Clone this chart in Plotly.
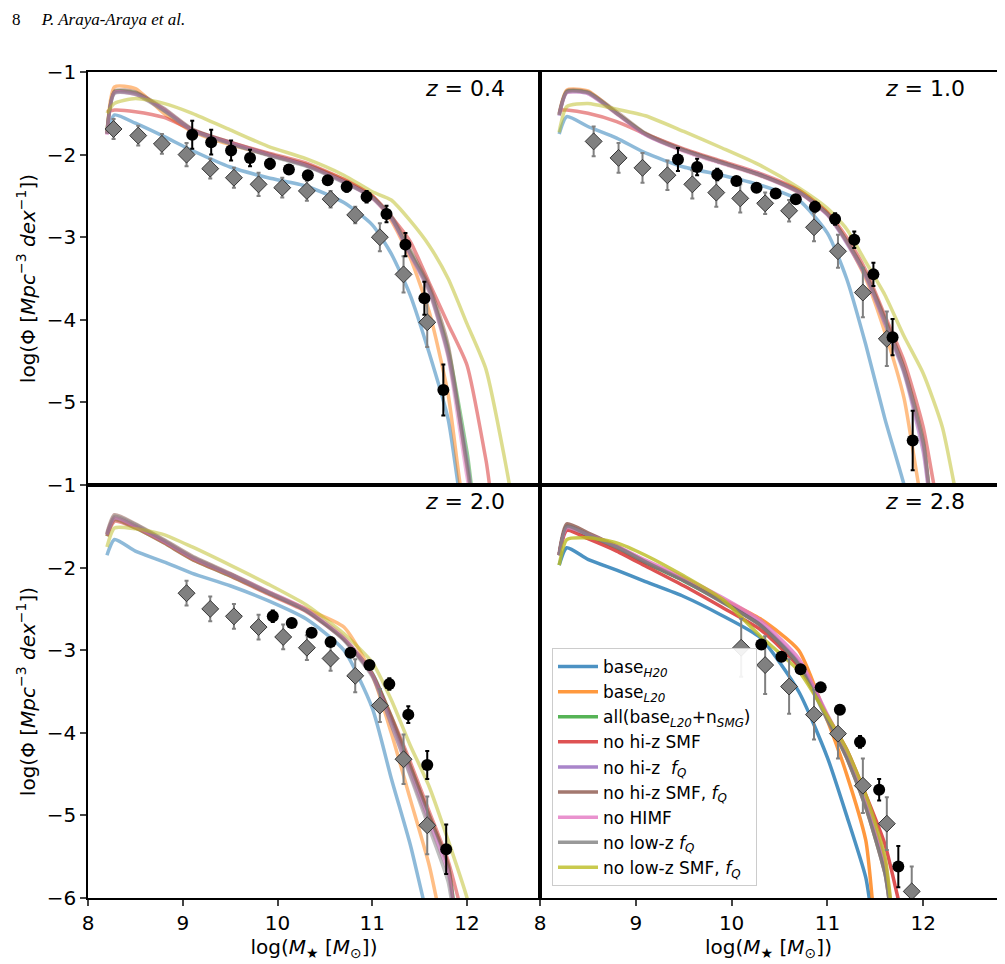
import plotly.graph_objects as go

# ---------------- data ----------------
mass = [8.2, 8.28, 8.5, 8.8, 9.1, 9.5, 9.9, 10.3, 10.7, 11.0, 11.2, 11.4, 11.6, 11.8, 12.0, 12.2, 12.4, 12.6]

models = ["base<sub><i>H20</i></sub>", "base<sub><i>L20</i></sub>",
          "all(base<sub><i>L20</i></sub>+n<sub><i>SMG</i></sub>)", "no hi-z SMF",
          "no hi-z  <i>f<sub>Q</sub></i>", "no hi-z SMF, <i>f<sub>Q</sub></i>", "no HIMF",
          "no low-z <i>f<sub>Q</sub></i>", "no low-z SMF, <i>f<sub>Q</sub></i>"]
colors = ["#1f77b4", "#ff7f0e", "#2ca02c", "#d62728", "#9467bd", "#8c564b", "#e377c2", "#7f7f7f", "#bcbd22"]

# z = 0.4
phi_z04 = [
    [-1.75, -1.52, -1.62, -1.78, -1.95, -2.15, -2.28, -2.38, -2.58, -2.85, -3.2, -3.7, -4.4, -5.2, -6.6, -7, -7, -7],
    [-1.75, -1.18, -1.2, -1.5, -1.72, -1.88, -2.0, -2.12, -2.3, -2.5, -2.8, -3.25, -3.9, -4.9, -6.5, -7, -7, -7],
    [-1.72, -1.24, -1.25, -1.46, -1.70, -1.86, -2.0, -2.13, -2.32, -2.52, -2.77, -3.18, -3.62, -4.35, -5.6, -7, -7, -7],
    [-1.48, -1.46, -1.48, -1.55, -1.7, -1.85, -1.98, -2.1, -2.3, -2.5, -2.75, -3.05, -3.55, -4.05, -4.55, -5.7, -7, -7],
    [-1.75, -1.25, -1.26, -1.45, -1.70, -1.86, -2.0, -2.13, -2.33, -2.52, -2.76, -3.2, -3.62, -4.4, -5.7, -7, -7, -7],
    [-1.74, -1.23, -1.24, -1.44, -1.69, -1.85, -1.99, -2.12, -2.32, -2.51, -2.74, -3.15, -3.58, -4.3, -5.8, -7, -7, -7],
    [-1.76, -1.25, -1.27, -1.46, -1.71, -1.86, -2.0, -2.13, -2.33, -2.53, -2.78, -3.22, -3.66, -4.45, -5.9, -7, -7, -7],
    [-1.75, -1.26, -1.27, -1.47, -1.71, -1.87, -2.01, -2.14, -2.34, -2.52, -2.76, -3.2, -3.65, -4.42, -5.75, -7, -7, -7],
    [-1.5, -1.38, -1.32, -1.38, -1.5, -1.7, -1.9, -2.05, -2.25, -2.45, -2.55, -2.8, -3.1, -3.5, -4.05, -4.6, -5.7, -7],
]
# z = 1.0
phi_z10 = [
    [-1.75, -1.54, -1.66, -1.8, -1.98, -2.15, -2.25, -2.37, -2.55, -2.95, -3.5, -4.3, -5.2, -6.0, -7, -7, -7, -7],
    [-1.52, -1.22, -1.23, -1.5, -1.75, -1.95, -2.1, -2.25, -2.43, -2.7, -3.05, -3.5, -4.15, -4.95, -6.3, -7, -7, -7],
    [-1.52, -1.24, -1.25, -1.5, -1.75, -1.95, -2.1, -2.25, -2.45, -2.72, -3.05, -3.45, -4.0, -4.6, -5.5, -7, -7, -7],
    [-1.46, -1.46, -1.5, -1.6, -1.75, -1.93, -2.08, -2.23, -2.43, -2.7, -3.0, -3.4, -3.95, -4.5, -5.3, -6.5, -7, -7],
    [-1.53, -1.25, -1.26, -1.5, -1.76, -1.95, -2.1, -2.24, -2.45, -2.73, -3.07, -3.48, -4.05, -4.65, -5.6, -7, -7, -7],
    [-1.5, -1.23, -1.24, -1.48, -1.74, -1.94, -2.09, -2.25, -2.46, -2.72, -3.04, -3.44, -3.98, -4.58, -5.45, -7, -7, -7],
    [-1.52, -1.25, -1.26, -1.51, -1.76, -1.96, -2.11, -2.26, -2.46, -2.73, -3.06, -3.47, -4.03, -4.62, -5.55, -7, -7, -7],
    [-1.52, -1.24, -1.25, -1.5, -1.75, -1.95, -2.1, -2.25, -2.45, -2.72, -3.05, -3.46, -4.02, -4.63, -5.5, -7, -7, -7],
    [-1.73, -1.42, -1.38, -1.45, -1.53, -1.72, -1.92, -2.13, -2.4, -2.65, -2.9, -3.3, -3.7, -4.2, -4.65, -5.3, -6.4, -7],
]
# z = 2.0
phi_z20 = [
    [-1.85, -1.66, -1.8, -1.93, -2.07, -2.22, -2.4, -2.62, -3.0, -3.7, -4.55, -5.35, -6.3, -7, -7, -7, -7, -7],
    [-1.6, -1.4, -1.5, -1.68, -1.88, -2.08, -2.3, -2.5, -2.72, -3.3, -4.0, -4.8, -5.6, -6.6, -7, -7, -7, -7],
    [-1.62, -1.42, -1.52, -1.7, -1.9, -2.1, -2.31, -2.52, -2.86, -3.28, -3.8, -4.4, -5.0, -5.6, -7, -7, -7, -7],
    [-1.62, -1.44, -1.52, -1.7, -1.9, -2.1, -2.32, -2.53, -2.87, -3.3, -3.8, -4.35, -4.95, -5.55, -6.4, -7, -7, -7],
    [-1.6, -1.4, -1.5, -1.68, -1.88, -2.08, -2.3, -2.52, -2.87, -3.3, -3.85, -4.45, -5.05, -5.65, -7, -7, -7, -7],
    [-1.58, -1.36, -1.47, -1.66, -1.86, -2.07, -2.29, -2.51, -2.86, -3.28, -3.82, -4.4, -5.0, -5.6, -7, -7, -7, -7],
    [-1.6, -1.4, -1.5, -1.68, -1.88, -2.08, -2.29, -2.5, -2.84, -3.3, -3.9, -4.5, -5.1, -5.7, -7, -7, -7, -7],
    [-1.6, -1.38, -1.48, -1.67, -1.87, -2.08, -2.3, -2.52, -2.88, -3.32, -3.9, -4.52, -5.15, -5.8, -7, -7, -7, -7],
    [-1.75, -1.52, -1.53, -1.6, -1.75, -1.97, -2.2, -2.45, -2.8, -3.15, -3.6, -4.15, -4.65, -5.3, -6.0, -7, -7, -7],
]
# z = 2.8
phi_z28 = [
    [-1.97, -1.76, -1.9, -2.03, -2.17, -2.35, -2.58, -2.85, -3.5, -4.3, -5.0, -5.75, -7, -7, -7, -7, -7, -7],
    [-1.85, -1.5, -1.6, -1.75, -1.93, -2.15, -2.38, -2.62, -3.0, -3.85, -4.5, -5.3, -7, -7, -7, -7, -7, -7],
    [-1.85, -1.52, -1.61, -1.76, -1.94, -2.16, -2.41, -2.69, -3.15, -3.8, -4.25, -4.8, -5.6, -7, -7, -7, -7, -7],
    [-1.85, -1.55, -1.65, -1.8, -1.98, -2.22, -2.48, -2.75, -3.2, -3.8, -4.2, -4.75, -5.35, -6.3, -7, -7, -7, -7],
    [-1.85, -1.5, -1.6, -1.75, -1.93, -2.15, -2.4, -2.68, -3.15, -3.8, -4.25, -4.85, -5.6, -7, -7, -7, -7, -7],
    [-1.83, -1.47, -1.58, -1.74, -1.93, -2.15, -2.41, -2.7, -3.18, -3.82, -4.3, -4.9, -5.7, -7, -7, -7, -7, -7],
    [-1.85, -1.52, -1.6, -1.74, -1.91, -2.12, -2.36, -2.64, -3.1, -3.78, -4.22, -4.8, -5.55, -7, -7, -7, -7, -7],
    [-1.85, -1.5, -1.6, -1.75, -1.93, -2.16, -2.42, -2.7, -3.17, -3.85, -4.3, -4.9, -5.7, -7, -7, -7, -7, -7],
    [-1.97, -1.66, -1.64, -1.7, -1.85, -2.1, -2.38, -2.83, -3.25, -3.8, -4.2, -4.75, -5.5, -7, -7, -7, -7, -7],
]

# observations: black circles and grey diamonds
obs_z04_x = [9.1, 9.3, 9.51, 9.71, 9.92, 10.12, 10.32, 10.53, 10.73, 10.94, 11.15, 11.35, 11.55, 11.75]
obs_z04_y = [-1.76, -1.85, -1.95, -2.04, -2.11, -2.18, -2.25, -2.31, -2.39, -2.51, -2.72, -3.09, -3.74, -4.85]
obs_z04_e = [0.17, 0.15, 0.12, 0.1, 0.06, 0.05, 0.05, 0.05, 0.06, 0.07, 0.1, 0.14, 0.2, 0.31]
dia_z04_x = [8.27, 8.53, 8.78, 9.04, 9.29, 9.54, 9.8, 10.05, 10.31, 10.56, 10.82, 11.08, 11.33, 11.58]
dia_z04_y = [-1.69, -1.77, -1.87, -2.0, -2.17, -2.28, -2.36, -2.4, -2.44, -2.54, -2.73, -3.0, -3.45, -4.03]
dia_z04_e = [0.12, 0.12, 0.12, 0.14, 0.12, 0.12, 0.14, 0.12, 0.12, 0.1, 0.1, 0.17, 0.22, 0.3]

obs_z10_x = [9.44, 9.64, 9.85, 10.05, 10.26, 10.46, 10.67, 10.87, 11.08, 11.28, 11.48, 11.68, 11.89]
obs_z10_y = [-2.06, -2.15, -2.24, -2.32, -2.4, -2.47, -2.54, -2.63, -2.78, -3.03, -3.45, -4.21, -5.46]
obs_z10_e = [0.14, 0.1, 0.07, 0.04, 0.04, 0.04, 0.04, 0.06, 0.07, 0.1, 0.14, 0.22, 0.36]
dia_z10_x = [8.56, 8.82, 9.07, 9.33, 9.59, 9.84, 10.09, 10.35, 10.6, 10.86, 11.11, 11.37, 11.62]
dia_z10_y = [-1.84, -2.04, -2.16, -2.25, -2.36, -2.46, -2.53, -2.59, -2.68, -2.88, -3.17, -3.67, -4.23]
dia_z10_e = [0.18, 0.18, 0.18, 0.18, 0.17, 0.17, 0.17, 0.13, 0.13, 0.17, 0.2, 0.3, 0.33]

obs_z20_x = [9.95, 10.15, 10.36, 10.56, 10.77, 10.97, 11.18, 11.38, 11.58, 11.78]
obs_z20_y = [-2.59, -2.67, -2.79, -2.9, -3.03, -3.18, -3.41, -3.78, -4.39, -5.41]
obs_z20_e = [0.07, 0.05, 0.05, 0.05, 0.05, 0.05, 0.07, 0.1, 0.17, 0.3]
dia_z20_x = [9.04, 9.29, 9.54, 9.8, 10.06, 10.31, 10.56, 10.82, 11.08, 11.33, 11.58]
dia_z20_y = [-2.31, -2.5, -2.59, -2.72, -2.84, -2.97, -3.1, -3.31, -3.67, -4.32, -5.12]
dia_z20_e = [0.15, 0.15, 0.15, 0.15, 0.15, 0.15, 0.15, 0.2, 0.2, 0.3, 0.35]

obs_z28_x = [10.31, 10.52, 10.72, 10.93, 11.13, 11.34, 11.54, 11.74]
obs_z28_y = [-2.93, -3.08, -3.23, -3.45, -3.72, -4.11, -4.69, -5.62]
obs_z28_e = [0.04, 0.04, 0.04, 0.04, 0.05, 0.07, 0.13, 0.25]
dia_z28_x = [10.1, 10.35, 10.6, 10.86, 11.11, 11.37, 11.62, 11.88]
dia_z28_y = [-2.97, -3.18, -3.44, -3.78, -4.01, -4.64, -5.1, -5.92]
dia_z28_e = [0.35, 0.35, 0.33, 0.3, 0.3, 0.33, 0.32, 0.3]

redshift_labels = ["0.4", "1.0", "2.0", "2.8"]

# ---------------- figure ----------------
# the page body adds an 8px margin, so work in page pixels minus 8
OFF = 8
W, H = 1005 - OFF, 964 - OFF
px = lambda v: (v - OFF) / W
py = lambda v: 1 - (v - OFF) / H
xl = [px(88), px(540), px(997)]
yl = [py(72), py(485), py(898)]

panels = [
    (phi_z04, obs_z04_x, obs_z04_y, obs_z04_e, dia_z04_x, dia_z04_y, dia_z04_e, 0.5),
    (phi_z10, obs_z10_x, obs_z10_y, obs_z10_e, dia_z10_x, dia_z10_y, dia_z10_e, 0.5),
    (phi_z20, obs_z20_x, obs_z20_y, obs_z20_e, dia_z20_x, dia_z20_y, dia_z20_e, 0.5),
    (phi_z28, obs_z28_x, obs_z28_y, obs_z28_e, dia_z28_x, dia_z28_y, dia_z28_e, 0.8),
]

fig = go.Figure()
axfont = dict(family="DejaVu Sans", size=20, color="black")

for p, (phis, ox, oy, oe, dx, dy, de, alpha) in enumerate(panels):
    row, col = p // 2, p % 2
    sfx = "" if p == 0 else str(p + 1)
    xa, ya = "x" + sfx, "y" + sfx
    last = p == 3
    for k in range(9):
        fig.add_trace(go.Scatter(x=mass, y=phis[k], mode="lines", xaxis=xa, yaxis=ya,
                                 line=dict(color=colors[k], width=3.5, shape="spline", smoothing=0.6),
                                 opacity=alpha, name=models[k], showlegend=last, legendrank=k + 1))
    fig.add_trace(go.Scatter(x=dx, y=dy, mode="markers", xaxis=xa, yaxis=ya, showlegend=False,
                             marker=dict(symbol="diamond", size=13, color="#808080",
                                         line=dict(color="#333333", width=1)),
                             error_y=dict(array=de, color="#808080", thickness=2, width=2)))
    fig.add_trace(go.Scatter(x=ox, y=oy, mode="markers", xaxis=xa, yaxis=ya, showlegend=False,
                             marker=dict(symbol="circle", size=12, color="black"),
                             error_y=dict(array=oe, color="black", thickness=2, width=2)))

    left, bottom = col == 0, row == 1
    xaxis = dict(domain=[xl[col], xl[col + 1]], range=[8, 12.77], anchor=ya, automargin=False,
                 showline=True, linecolor="black", linewidth=1.5, mirror=True,
                 showgrid=False, zeroline=False, tickvals=[8, 9, 10, 11, 12],
                 ticks="outside" if bottom else "", ticklen=6, tickwidth=1.5,
                 showticklabels=bottom, tickfont=axfont)
    if bottom:
        xaxis["title"] = dict(text="log(<i>M</i><sub>★</sub> [<i>M</i><sub>⊙</sub>])",
                              font=axfont, standoff=2)
    yaxis = dict(domain=[yl[row + 1], yl[row]], range=[-6, -1], anchor=xa, automargin=False,
                 showline=True, linecolor="black", linewidth=1.5, mirror=True,
                 showgrid=False, zeroline=False,
                 tickvals=[-1, -2, -3, -4, -5] if row == 0 else [-1, -2, -3, -4, -5, -6],
                 ticktext=["−1", "−2", "−3", "−4", "−5"] if row == 0 else ["−1", "−2", "−3", "−4", "−5", "−6"],
                 ticks="outside" if left else "", ticklen=6, tickwidth=1.5,
                 showticklabels=left, tickfont=axfont)
    if left:
        yaxis["title"] = dict(text="log(Φ [<i>Mpc</i><sup>−3</sup> <i>dex</i><sup>−1</sup>])",
                              font=axfont, standoff=6)
    fig.update_layout({"xaxis" + sfx: xaxis, "yaxis" + sfx: yaxis})

    fig.add_annotation(x=xl[col + 1] - (33 if col == 0 else 30) / W,
                       y=yl[row] - 16 / H, xref="paper", yref="paper",
                       xanchor="right", yanchor="middle", showarrow=False,
                       text="<i>z</i> = " + redshift_labels[p],
                       font=dict(family="DejaVu Sans", size=22, color="black"))

fig.add_annotation(x=px(10), y=1, xref="paper", yref="paper", xanchor="left", yanchor="top",
                   showarrow=False, text="8     <i>P. Araya-Araya et al.</i>",
                   font=dict(family="Liberation Serif", size=17, color="black"))

fig.update_layout(
    width=W, height=H, margin=dict(l=0, r=0, t=0, b=0),
    plot_bgcolor="white", paper_bgcolor="white",
    legend=dict(x=px(552), y=py(648), xanchor="left", yanchor="top",
                bgcolor="rgba(255,255,255,0.9)", bordercolor="#cccccc", borderwidth=1,
                font=dict(family="DejaVu Sans", size=17, color="black"),
                tracegroupgap=10, itemwidth=40),
)

fig.write_html("out.html")
